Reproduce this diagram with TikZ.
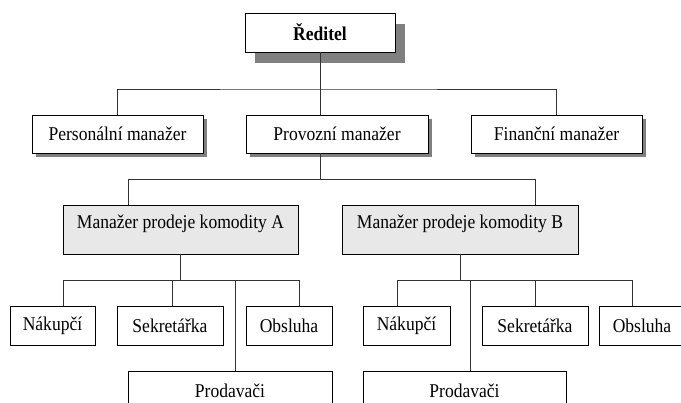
\documentclass[tikz,border=0pt]{standalone}
\usepackage{fontspec}
\setmainfont{Liberation Serif}[FakeStretch=0.9]
\usepackage{xcolor}
\usepackage{tikz}
\usetikzlibrary{shadows}
\definecolor{wire}{HTML}{333333}
\definecolor{shade}{HTML}{808080}
\definecolor{pale}{HTML}{E8E8E8}
\tikzset{
  box/.style={draw=black, line width=0.9pt, fill=white, inner sep=0pt, font=\fontsize{19.5}{22}\selectfont},
  head/.style={box, font=\fontsize{19.5}{22}\selectfont\bfseries,
    drop shadow={shadow xshift=10pt, shadow yshift=-11pt, fill=shade, opacity=1}},
  mgr/.style={box, minimum height=38pt,
    drop shadow={shadow xshift=4pt, shadow yshift=-4pt, fill=shade, opacity=1}},
  unit/.style={box, fill=pale, minimum height=49pt, text height=13pt, text depth=15pt},
  leaf/.style={box, minimum height=39pt},
  link/.style={draw=wire, line width=0.9pt},
}

\begin{document}
\begin{tikzpicture}[x=1pt, y=-1pt]
  \useasboundingbox (0,0) rectangle (681,403);
  \clip (0,0) rectangle (681,403);
  % boxes
  \node[head, minimum width=150pt, minimum height=39pt] (dir) at (320,32.5) {Ředitel};
  \node[mgr, minimum width=171pt] (pers) at (117.5,134) {Personální manažer};
  \node[mgr, minimum width=182pt] (prov) at (337,134) {Provozní manažer};
  \node[mgr, minimum width=171pt] (fin) at (556.5,134) {Finanční manažer};
  \node[unit, minimum width=235pt] (komA) at (180.5,229.5) {Manažer prodeje komodity A};
  \node[unit, minimum width=236pt] (komB) at (460,229.5) {Manažer prodeje komodity B};
  \node[leaf, minimum width=85pt] (nakA) at (52.5,325.5) {Nákupčí};
  \node[leaf, minimum width=106pt] (sekA) at (170,325.5) {Sekretářka};
  \node[leaf, minimum width=86pt] (oblA) at (289,325.5) {Obsluha};
  \node[leaf, minimum width=204pt] (prodA) at (230,390.5) {Prodavači};
  \node[leaf, minimum width=87pt] (nakB) at (406.5,325.5) {Nákupčí};
  \node[leaf, minimum width=106pt] (sekB) at (535,325.5) {Sekretářka};
  \node[leaf, minimum width=86pt] (oblB) at (642,325.5) {Obsluha};
  \node[leaf, minimum width=203pt] (prodB) at (464.5,390.5) {Prodavači};
  % connectors
  \draw[link] (dir.south) -- (dir.south |- prov.north);
  \draw[link] (pers.north) |- (dir.south |- 0,89) -| (fin.north);
  \draw[link] (prov.south -| dir.south) -- (dir.south |- 0,179);
  \draw[link] (komA.north -| 128,0) -- (128,179) -- (535,179) -- (komB.north -| 535,0);
  \draw[link] (komA.south) -- (komA.south |- 0,280);
  \draw[link] (63,280) -- (299,280);
  \foreach \x/\n in {63/nakA,172/sekA,235/prodA,299/oblA}
    \draw[link] (\x,280) -- (\n.north -| \x,0);
  \draw[link] (komB.south) -- (komB.south |- 0,280);
  \draw[link] (397,280) -- (632,280);
  \foreach \x/\n in {397/nakB,470/prodB,535/sekB,632/oblB}
    \draw[link] (\x,280) -- (\n.north -| \x,0);
\end{tikzpicture}
\end{document}
